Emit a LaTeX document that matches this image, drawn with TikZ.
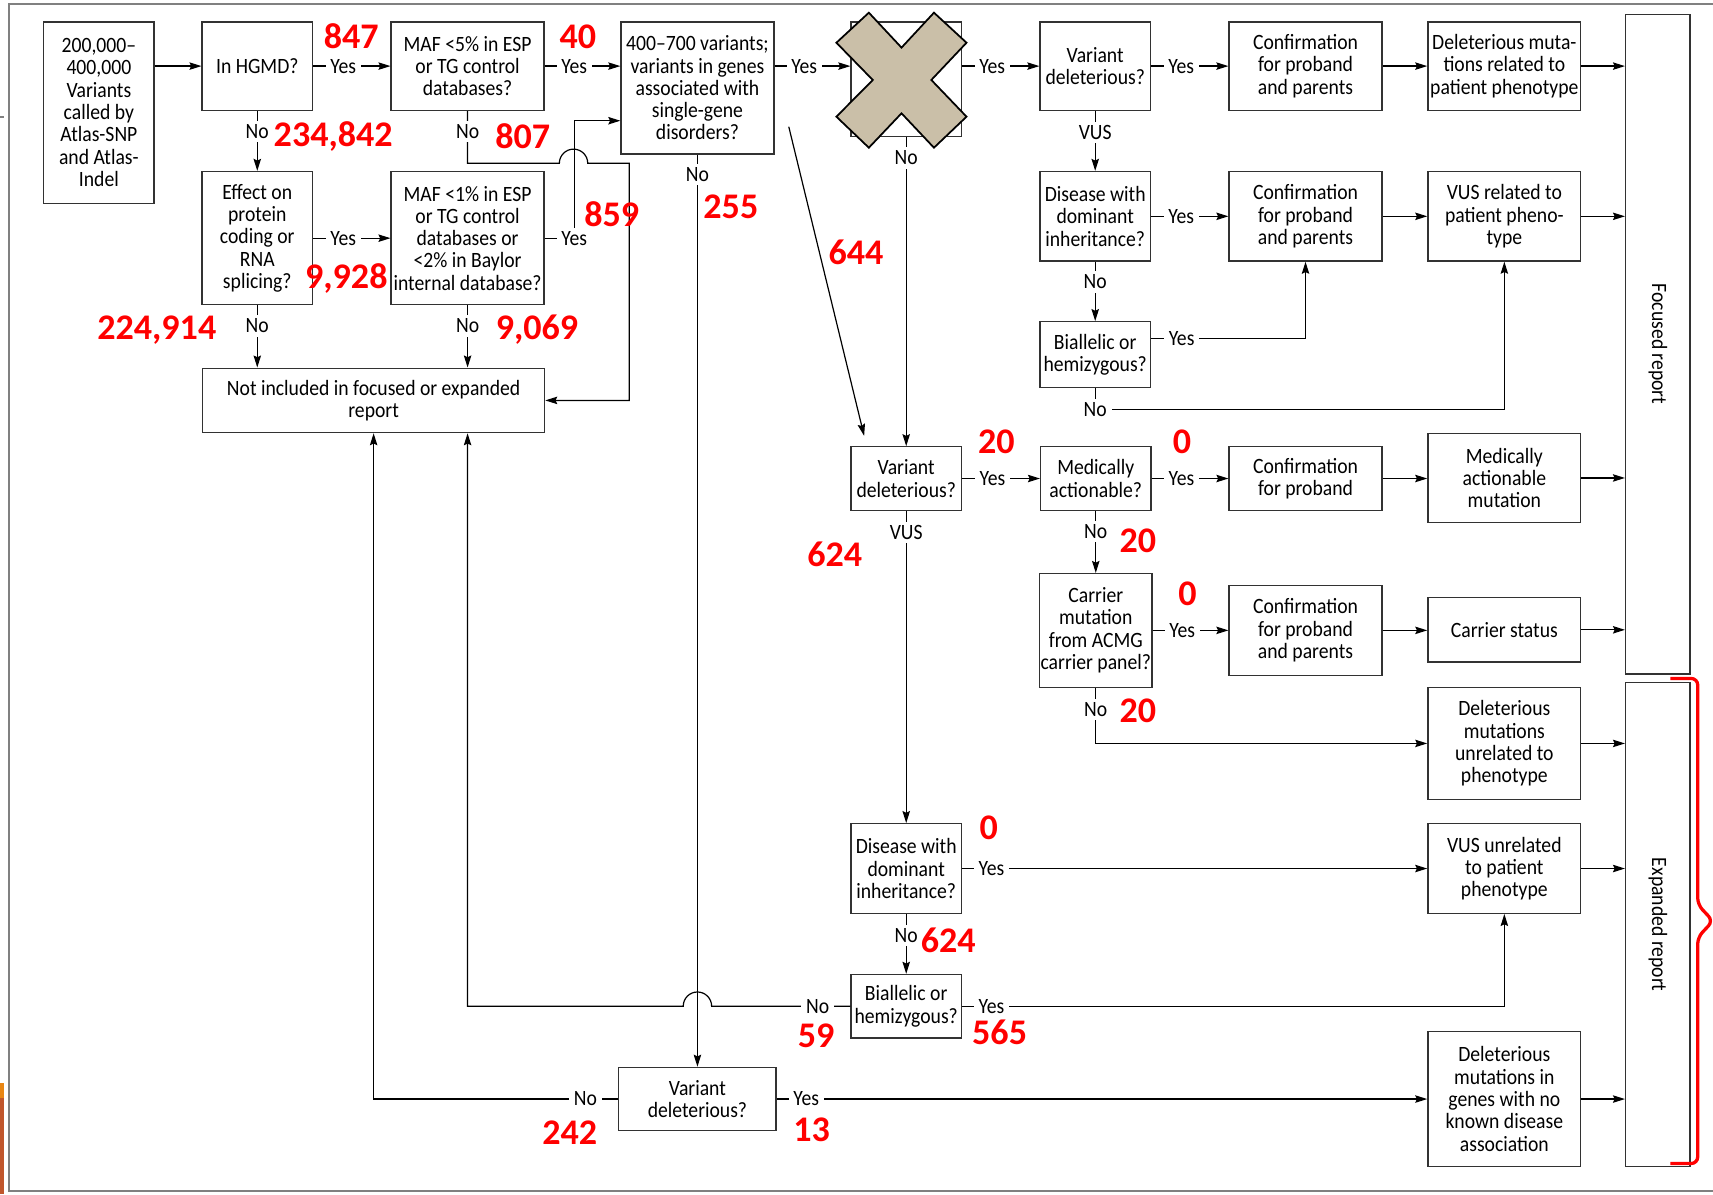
\documentclass[tikz,border=0pt]{standalone}
\usepackage{fontspec}
\setmainfont{Carlito}[FakeStretch=0.9]
\newfontfamily\cntfont{Carlito}
\usetikzlibrary{arrows.meta,calc}
\definecolor{boxgray}{RGB}{50,50,50}
\definecolor{framegray}{RGB}{128,128,128}
\definecolor{crosstan}{RGB}{202,191,168}
\definecolor{cntred}{RGB}{255,0,0}
\definecolor{tabamber}{RGB}{232,134,20}
\definecolor{tabrust}{RGB}{192,86,44}

\tikzset{
  box/.style={draw=boxgray, line width=0.6pt, align=center, inner sep=0.5pt},
  nbox/.style={box, minimum width=50.5pt},
  wbox/.style={box, minimum width=70pt},
  rbox/.style={box, minimum width=29.5pt},
  lbl/.style={fill=white, inner xsep=2.2pt, inner ysep=1.6pt},
  cnt/.style={text=cntred, inner sep=0pt, font=\cntfont\bfseries\fontsize{16.5}{17}\selectfont},
  link/.style={->, line width=0.55pt},
}

\begin{document}
\begin{tikzpicture}[x=0.5pt, y=-0.5pt, >={Stealth[length=5.5pt,width=3.4pt,inset=0.8pt]},
  font=\fontsize{10}{10.2}\selectfont]
\useasboundingbox (0,0) rectangle (1568,1093);
% screenshot frame
\draw[framegray, line width=0.9pt] (1568,4) -- (8,4) -- (8,1090) -- (1568,1090);
\draw[framegray, line width=0.9pt] (0,107) -- (4,107);
\fill[tabamber] (0,991) rectangle (3.7,1005);
\fill[tabrust] (0,1005) rectangle (3.7,1093);

% first row
\node[nbox, minimum height=83pt] (calls) at (90.5,103) {200,000--\\400,000\\Variants\\called by\\Atlas-SNP\\and Atlas-\\Indel};
\node[nbox, minimum height=40.5pt] (hgmd) at (235.5,60.5) {In HGMD?};
\node[wbox, minimum height=40.5pt] (maf5) at (428,60.5) {MAF <5\% in ESP\\or TG control\\databases?};
\node[wbox, minimum height=60.5pt] (genes) at (638.4,80.5) {400--700 variants;\\variants in genes\\associated with\\single-gene\\disorders?};
\node[nbox, minimum height=52.5pt] (crossed) at (829.5,72.5) {};
\node[nbox, minimum height=40.5pt] (del1) at (1002.5,60.5) {Variant\\deleterious?};
\node[wbox, minimum height=40.5pt] (conf1) at (1195,60.5) {Confirmation\\for proband\\and parents};
\node[wbox, minimum height=40.5pt] (relpheno) at (1377,60.5) {Deleterious muta-\\tions related to\\patient phenotype};

% report columns
\node[rbox, minimum height=302pt] (focused) at (1517.5,315) {};
\node[rotate=-90] (focusedtxt) at (focused) {Focused report};
\node[rbox, minimum height=221.5pt] (expanded) at (1517.5,846.5) {};
\node[rotate=-90] (expandedtxt) at (expanded) {Expanded report};

% second row
\node[nbox, minimum height=61pt] (effect) at (235.5,218) {Effect on\\protein\\coding or\\RNA\\splicing?};
\node[wbox, minimum height=61pt] (maf1) at (428,218) {MAF <1\% in ESP\\or TG control\\databases or\\<2\% in Baylor\\internal database?};
\node[nbox, minimum height=41pt] (dom1) at (1002.5,198) {Disease with\\dominant\\inheritance?};
\node[wbox, minimum height=41pt] (conf2) at (1195,198) {Confirmation\\for proband\\and parents};
\node[wbox, minimum height=41pt] (vusrel) at (1377,198) {VUS related to\\patient pheno-\\type};
\node[nbox, minimum height=30pt] (biall1) at (1002.5,324.5) {Biallelic or\\hemizygous?};
\node[box, minimum width=156.5pt, minimum height=29.5pt] (notinc) at (342,366.5) {Not included in focused or expanded\\report};

% middle block
\node[nbox, minimum height=29pt] (del2) at (829.5,438) {Variant\\deleterious?};
\node[nbox, minimum height=29pt] (medact) at (1003,438) {Medically\\actionable?};
\node[wbox, minimum height=29pt] (conf3) at (1195,438) {Confirmation\\for proband};
\node[wbox, minimum height=40.5pt] (actmut) at (1377,437.5) {Medically\\actionable\\mutation};
\node[nbox, minimum height=52pt] (carrier) at (1003,577) {Carrier\\mutation\\from ACMG\\carrier panel?};
\node[wbox, minimum height=41pt] (conf4) at (1195,577) {Confirmation\\for proband\\and parents};
\node[wbox, minimum height=29.5pt] (carrstat) at (1377,576.5) {Carrier status};
\node[wbox, minimum height=51.5pt] (unrel) at (1377,680.5) {Deleterious\\mutations\\unrelated to\\phenotype};

% lower block
\node[nbox, minimum height=41pt] (dom2) at (829.5,795) {Disease with\\dominant\\inheritance?};
\node[wbox, minimum height=41pt] (vusunrel) at (1377,795) {VUS unrelated\\to patient\\phenotype};
\node[nbox, minimum height=29pt] (biall2) at (829.5,921) {Biallelic or\\hemizygous?};
\node[box, minimum width=72pt, minimum height=29pt] (del3) at (638.4,1006) {Variant\\deleterious?};
\node[wbox, minimum height=62pt] (noknown) at (1377,1006) {Deleterious\\mutations in\\genes with no\\known disease\\association};

\coordinate (diagA) at (722,116);
\coordinate (diagB) at (791,399);

% top row links
\draw[link] (calls.east |- hgmd) -- (hgmd.west);
\draw[link] (hgmd.east) -- node[lbl,pos=.39]{Yes} (maf5.west);
\draw[link] (maf5.east) -- node[lbl,pos=.39]{Yes} (maf5.east -| genes.west);
\draw[link] (genes.east |- maf5) -- node[lbl,pos=.39]{Yes} (crossed.west |- maf5);
\draw[link] (crossed.east |- del1) -- node[lbl,pos=.39]{Yes} (del1.west);
\draw[link] (del1.east) -- node[lbl,pos=.39]{Yes} (conf1.west);
\draw[link] (conf1) -- (relpheno);
\draw[link] (relpheno.east) -- (relpheno.east -| focused.west);

% left side
\draw[link] (hgmd.south) -- node[lbl,pos=.34]{No} (effect.north);
\draw[link] (effect.east) -- node[lbl,pos=.39]{Yes} (maf1.west);
\draw[link] (effect.south) -- node[lbl,pos=.33]{No} (effect.south |- notinc.north);
\draw[link] (maf1.south) -- node[lbl,pos=.33]{No} (maf1.south |- notinc.north);
\draw[link] (maf1.east) -- ++(27,0) node[lbl]{Yes} |- ([yshift=-15pt]genes.west);
\draw[link] (maf5.south) -- ++(0,19) node[lbl]{No} -- (428,149.5) -- (512,149.5)
  arc[start angle=180, end angle=360, radius=13] -- (576,149.5) |- (notinc.east);

% middle column
\draw[link] (genes.south) -- ++(0,18) node[lbl]{No} -- (del3.north);
\draw[link] (diagA) -- (diagB);
\draw[link] (crossed.south) -- ++(0,19) node[lbl]{No} -- (del2.north);

% VUS branch at top
\draw[link] (del1.south) -- node[lbl,pos=.36]{VUS} (dom1.north);
\draw[link] (dom1.east) -- node[lbl,pos=.39]{Yes} (conf2.west);
\draw[link] (conf2) -- (vusrel);
\draw[link] (vusrel.east) -- (vusrel.east -| focused.west);
\draw[link] (dom1.south) -- node[lbl,pos=.34]{No} (biall1.north);
\draw[link] ([yshift=7.25pt]biall1.east) -- ++(28,0) node[lbl]{Yes} -| (conf2.south);
\draw[link] (biall1.south) -- ++(0,20) node[lbl]{No} -| (vusrel.south);

% deleterious branch
\draw[link] (del2.east) -- node[lbl,pos=.39]{Yes} (medact.west);
\draw[link] (medact.east) -- node[lbl,pos=.39]{Yes} (conf3.west);
\draw[link] (conf3.east) -- (conf3.east -| actmut.west);
\draw[link] (actmut.east) -- (actmut.east -| focused.west);
\draw[link] (medact.south) -- node[lbl,pos=.33]{No} (carrier.north);
\draw[link] (carrier.east) -- node[lbl,pos=.39]{Yes} (conf4.west);
\draw[link] (conf4.east) -- (conf4.east -| carrstat.west);
\draw[link] (carrstat.east) -- (carrstat.east -| focused.west);
\draw[link] (carrier.south) -- ++(0,20) node[lbl]{No} |- (unrel.west);
\draw[link] (unrel.east) -- (unrel.east -| expanded.west);

% VUS branch below
\draw[link] (del2.south) -- ++(0,20) node[lbl]{VUS} -- (dom2.north);
\draw[link] (dom2.east) -- ++(27,0) node[lbl]{Yes} -- (vusunrel.west);
\draw[link] (vusunrel.east) -- (vusunrel.east -| expanded.west);
\draw[link] (dom2.south) -- node[lbl,pos=.36]{No} (biall2.north);
\draw[link] (biall2.east) -- ++(27,0) node[lbl]{Yes} -| (vusunrel.south);
\draw[link] (biall2.west) -- ++(-30,0) node[lbl]{No}
  -- ($(genes.south |- biall2.west)+(13,0)$)
  arc[start angle=0, end angle=-180, radius=13] -| (maf1.south |- notinc.south);

% bottom
\draw[link] (del3.west) -- ++(-30,0) node[lbl]{No} -| (notinc.south);
\draw[link] (del3.east) -- ++(27,0) node[lbl]{Yes} -- (noknown.west);
\draw[link] (noknown.east) -- (noknown.east -| expanded.west);

% cross over the removed step
\filldraw[fill=crosstan, draw=black, line width=0.8pt]
  (795.3,11.6) -- (825.2,43.6) -- (854.9,11.6) -- (884.7,39.1) -- (852.5,73.2)
  -- (884.7,106.8) -- (854.9,135.2) -- (825.2,103.7) -- (795.3,135.2)
  -- (765.6,106.8) -- (798.9,73.2) -- (765.6,39.1) -- cycle;

% brace for expanded report
\draw[cntred, line width=1.5pt, rounded corners=3pt]
  (1529,621) -- (1554,621) -- (1554,828) -- (1568,843) -- (1554,858) -- (1554,1065) -- (1529,1065);

% counts
\node[cnt] (n847) at (321.5,33) {847};
\node[cnt] (n40) at (529,34) {40};
\node[cnt] (n234842) at (305,125) {234,842};
\node[cnt] (n807) at (478.5,125) {807};
\node[cnt] (n9928) at (317,255) {9,928};
\node[cnt] (n224914) at (143.5,302) {224,914};
\node[cnt] (n9069) at (491.5,302) {9,069};
\node[cnt] (n859) at (560,196) {859};
\node[cnt] (n255) at (669,189) {255};
\node[cnt] (n644) at (783.5,231) {644};
\node[cnt] (n20a) at (912,404) {20};
\node[cnt] (n0a) at (1082,404) {0};
\node[cnt] (n20b) at (1041.5,495) {20};
\node[cnt] (n0b) at (1087,543.5) {0};
\node[cnt] (n20c) at (1041.5,651) {20};
\node[cnt] (n624a) at (764,507) {624};
\node[cnt] (n0c) at (905,758) {0};
\node[cnt] (n624b) at (868,861) {624};
\node[cnt] (n565) at (915,945) {565};
\node[cnt] (n59) at (747,948) {59};
\node[cnt] (n242) at (521.5,1036.5) {242};
\node[cnt] (n13) at (743,1034) {13};
\end{tikzpicture}
\end{document}
